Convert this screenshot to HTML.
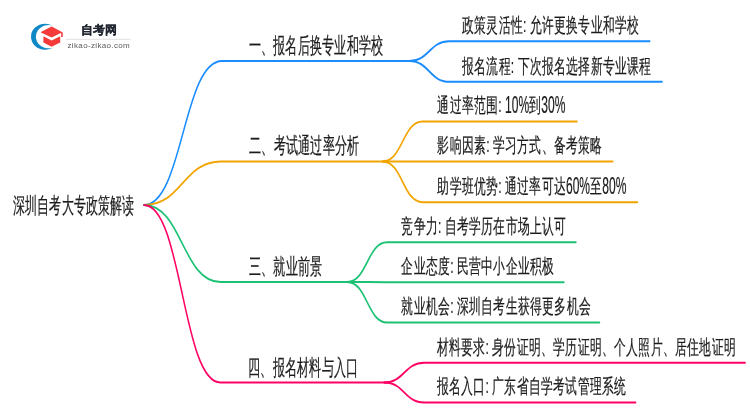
<!DOCTYPE html>
<html><head><meta charset="utf-8">
<style>
html,body{margin:0;padding:0;background:#fff;width:750px;height:410px;overflow:hidden}
#w{position:absolute;left:0;top:0;will-change:transform}
text{font-family:"Liberation Sans",sans-serif;font-size:22px;fill:#1c1c1c;stroke:#1c1c1c;stroke-width:0.25px}
.ln{fill:none;stroke-width:2.0;stroke-linecap:round}
</style></head><body>
<div id="w"><svg width="750" height="410" viewBox="0 0 750 410">
<g transform="scale(0.75,1)"><path class="ln" d="M192.00,205 C244.00,205 244.00,61.0 296.00,61.0 L551.07,61.0" stroke="#1a8cff"/>
<path class="ln" d="M545.73,61.0 C572.40,61.0 572.40,41.2 599.07,41.2 L866.27,41.2" stroke="#1a8cff"/>
<path class="ln" d="M545.73,61.0 C572.40,61.0 572.40,81.8 599.07,81.8 L882.67,81.8" stroke="#1a8cff"/>
<path class="ln" d="M192.00,205 C243.33,205 243.33,161.5 294.67,161.5 L515.47,161.5" stroke="#f2a400"/>
<path class="ln" d="M510.13,161.5 C536.80,161.5 536.80,121.6 563.47,121.6 L769.33,121.6" stroke="#f2a400"/>
<path class="ln" d="M510.13,161.5 C536.80,161.5 536.80,161.5 563.47,161.5 L816.93,161.5" stroke="#f2a400"/>
<path class="ln" d="M510.13,161.5 C536.80,161.5 536.80,202.2 563.47,202.2 L850.00,202.2" stroke="#f2a400"/>
<path class="ln" d="M192.00,205 C243.00,205 243.00,282.0 294.00,282.0 L468.27,282.0" stroke="#1bc274"/>
<path class="ln" d="M462.93,282.0 C489.60,282.0 489.60,242.2 516.27,242.2 L767.87,242.2" stroke="#1bc274"/>
<path class="ln" d="M462.93,282.0 C489.60,282.0 489.60,282.2 516.27,282.2 L751.87,282.2" stroke="#1bc274"/>
<path class="ln" d="M462.93,282.0 C489.60,282.0 489.60,322.5 516.27,322.5 L799.33,322.5" stroke="#1bc274"/>
<path class="ln" d="M192.00,205 C242.93,205 242.93,382.5 293.87,382.5 L517.73,382.5" stroke="#ff0064"/>
<path class="ln" d="M512.40,382.5 C539.07,382.5 539.07,362.8 565.73,362.8 L993.47,362.8" stroke="#ff0064"/>
<path class="ln" d="M512.40,382.5 C539.07,382.5 539.07,402.6 565.73,402.6 L847.47,402.6" stroke="#ff0064"/></g>
<text transform="translate(13,213) scale(0.544,1)">深圳自考大专政策解读</text>
<text transform="translate(248.6,53.1) scale(0.549,1)">一、报名后换专业和学校</text>
<text transform="translate(462.1,32.0) scale(0.588,1)" style="font-size:20.5px">政策灵活性: 允许更换专业和学校</text>
<text transform="translate(462.1,72.60000000000001) scale(0.588,1)" style="font-size:20.5px">报名流程: 下次报名选择新专业课程</text>
<text transform="translate(249.1,153.1) scale(0.549,1)">二、考试通过率分析</text>
<text transform="translate(437.40000000000003,112.4) scale(0.588,1)" style="font-size:20.5px">通过率范围: <tspan dy="0.9" style="font-size:23.57px" textLength="41.02" lengthAdjust="spacingAndGlyphs">10%</tspan><tspan dy="-0.9">到</tspan><tspan dy="0.9" style="font-size:23.57px" textLength="41.02" lengthAdjust="spacingAndGlyphs">30%</tspan></text>
<text transform="translate(437.40000000000003,152.3) scale(0.588,1)" style="font-size:20.5px">影响因素: 学习方式、备考策略</text>
<text transform="translate(437.40000000000003,193.0) scale(0.588,1)" style="font-size:20.5px">助学班优势: 通过率可达<tspan dy="0.9" style="font-size:23.57px" textLength="41.02" lengthAdjust="spacingAndGlyphs">60%</tspan><tspan dy="-0.9">至</tspan><tspan dy="0.9" style="font-size:23.57px" textLength="41.02" lengthAdjust="spacingAndGlyphs">80%</tspan></text>
<text transform="translate(248.9,274.0) scale(0.549,1)">三、就业前景</text>
<text transform="translate(401.40000000000003,233.0) scale(0.588,1)" style="font-size:20.5px">竞争力: 自考学历在市场上认可</text>
<text transform="translate(401.40000000000003,272.99999999999994) scale(0.588,1)" style="font-size:20.5px">企业态度: 民营中小企业积极</text>
<text transform="translate(401.40000000000003,313.29999999999995) scale(0.588,1)" style="font-size:20.5px">就业机会: 深圳自考生获得更多机会</text>
<text transform="translate(248.2,374.59999999999997) scale(0.549,1)">四、报名材料与入口</text>
<text transform="translate(436.8,353.59999999999997) scale(0.588,1)" style="font-size:20.5px">材料要求: 身份证明、学历证明、个人照片、居住地证明</text>
<text transform="translate(436.8,393.4) scale(0.588,1)" style="font-size:20.5px">报名入口: 广东省自学考试管理系统</text>

<g id="logo">
<ellipse cx="45" cy="36.7" rx="14" ry="13" fill="#1088c6"/>
<ellipse cx="48.9" cy="36.7" rx="13" ry="11.6" fill="#fff"/>
<path d="M40.5,32.2 L51.6,26.5 L62.4,32.2 L51.6,37.6 Z" fill="#f53a3a"/>
<rect x="61.1" y="32.2" width="1.6" height="4.8" fill="#f53a3a"/>
<path d="M43.4,36.2 L51.6,40.6 L60.2,36.2 L60.2,42.6 L51.6,46.8 L43.4,42.6 Z" fill="#f53a3a"/>
<text x="81" y="34" style="font-size:11.6px;font-weight:bold;fill:#1e232d;stroke:#1e232d;stroke-width:0.2px;letter-spacing:0px">自考网</text>
<rect x="65.8" y="38.8" width="65" height="1" fill="#e2e2e2"/>
<text x="67.5" y="47.6" style="font-size:8px;fill:#5a5a5a;stroke:none;letter-spacing:0.35px">zikao-zikao.com</text>
</g>

</svg></div>
</body></html>
